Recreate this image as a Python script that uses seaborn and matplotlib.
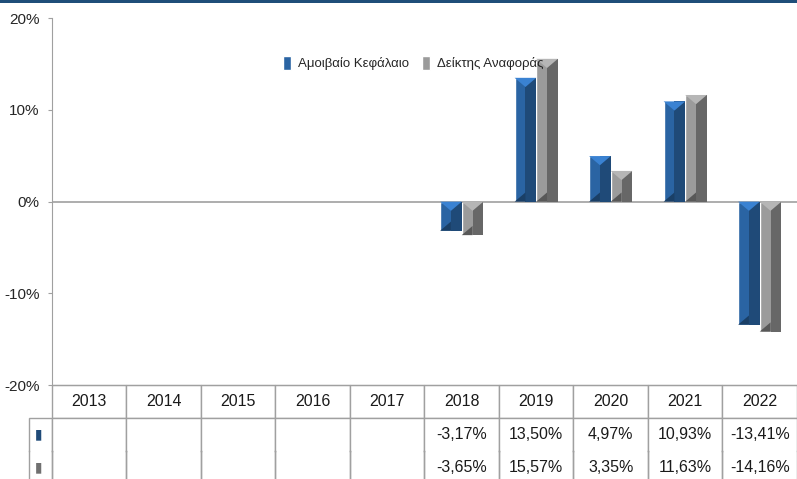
# -*- coding: utf-8 -*-
import matplotlib
matplotlib.use("Agg")
import matplotlib.pyplot as plt
from matplotlib.patches import Polygon, Rectangle
import seaborn as sns
import pandas as pd
import numpy as np

years = ['2013', '2014', '2015', '2016', '2017', '2018', '2019', '2020', '2021', '2022']
fund_label = 'Αμοιβαίο Κεφάλαιο'
bench_label = 'Δείκτης Αναφοράς'
fund = [np.nan, np.nan, np.nan, np.nan, np.nan, -3.17, 13.50, 4.97, 10.93, -13.41]
bench = [np.nan, np.nan, np.nan, np.nan, np.nan, -3.65, 15.57, 3.35, 11.63, -14.16]
yticks = [-20, -10, 0, 10, 20]

sns.set_style("white")
plt.rcParams['font.family'] = ['Liberation Sans', 'DejaVu Sans']

rows = []
for y, f, b in zip(years, fund, bench):
    if not np.isnan(f):
        rows.append({'year': y, 'series': fund_label, 'value': f})
    if not np.isnan(b):
        rows.append({'year': y, 'series': bench_label, 'value': b})
df = pd.DataFrame(rows)

fig = plt.figure(figsize=(7.97, 4.79), dpi=100)
ax = fig.add_axes([0.0652, 0.196, 0.9348, 0.766])

face = {fund_label: '#2a64a3', bench_label: '#9b9b9b'}
dark = {fund_label: '#1f4a78', bench_label: '#676767'}
light = {fund_label: '#3a82d2', bench_label: '#b6b6b6'}
deep = {fund_label: '#1a3f66', bench_label: '#585858'}

sns.barplot(data=df, x='year', y='value', hue='series', order=years,
            hue_order=[fund_label, bench_label], palette=face,
            width=0.58, saturation=1, errorbar=None, ax=ax)

# fake 3d bevel on each bar
cap = 1.0
for cont, name in zip(ax.containers, [fund_label, bench_label]):
    for p in cont.patches:
        x0, w, h = p.get_x(), p.get_width(), p.get_height()
        if np.isnan(h):
            continue
        y0 = p.get_y()
        upper = max(y0, y0 + h)
        lower = min(y0, y0 + h)
        mid = x0 + w / 2
        ax.add_patch(Rectangle((mid, lower), w / 2, upper - lower,
                               color=dark[name], lw=0, zorder=3))
        ax.add_patch(Polygon([(x0, upper), (x0 + w, upper), (mid, upper - cap)],
                             color=light[name], lw=0, zorder=4))
        ax.add_patch(Polygon([(x0, lower), (mid, lower + cap), (mid, lower)],
                             color=deep[name], lw=0, zorder=4))

ax.axhline(0, color='#a0a0a0', lw=1.2, zorder=2)
ax.set_ylim(-20, 20)
ax.set_xlim(-0.5, len(years) - 0.5)
ax.set_yticks(yticks)
ax.set_yticklabels([f'{t}%' for t in yticks], fontsize=11)
ax.tick_params(axis='y', length=3, color='#a0a0a0', pad=6, left=True)
ax.set_xticks([])
ax.set_xlabel('')
ax.set_ylabel('')
for s in ['top', 'right']:
    ax.spines[s].set_visible(False)
ax.spines['left'].set_color('#a0a0a0')
ax.spines['bottom'].set_color('#a0a0a0')

leg = ax.legend(loc='upper center', bbox_to_anchor=(0.485, 0.93), ncol=2, frameon=False,
                fontsize=9.5, handlelength=0.6, handleheight=1.3, columnspacing=1.0,
                handletextpad=0.5)

# data table under the chart
def fmt(v):
    return '' if np.isnan(v) else f'{v:.2f}%'.replace('.', ',')

cell_text = [[fmt(v) for v in fund], [fmt(v) for v in bench]]
tab = ax.table(cellText=cell_text, colLabels=years, rowLabels=[' ▮  ', ' ▮  '],
               cellLoc='center', rowLoc='center',
               bbox=[0, -0.27, 1, 0.27])
tab.auto_set_font_size(False)
tab.set_fontsize(11.5)
for (r, c), cell in tab.get_celld().items():
    cell.set_edgecolor('#a0a0a0')
    cell.set_linewidth(1.0)
    cell.set_capstyle('projecting')
    cell.get_text().set_color('#1a1a1a')
    if r == 1:
        cell.visible_edges = 'LRT'
    elif r == 2:
        cell.visible_edges = 'LR'
    if c == -1:
        cell.get_text().set_color(dark[fund_label] if r == 1 else '#707070')
        cell.get_text().set_fontsize(10)

# thin dark-blue line along the top
fig.add_artist(Rectangle((0, 0.994), 1, 0.006, transform=fig.transFigure,
                         color='#1f4e79', lw=0))

fig.savefig('out.png', dpi=100)
